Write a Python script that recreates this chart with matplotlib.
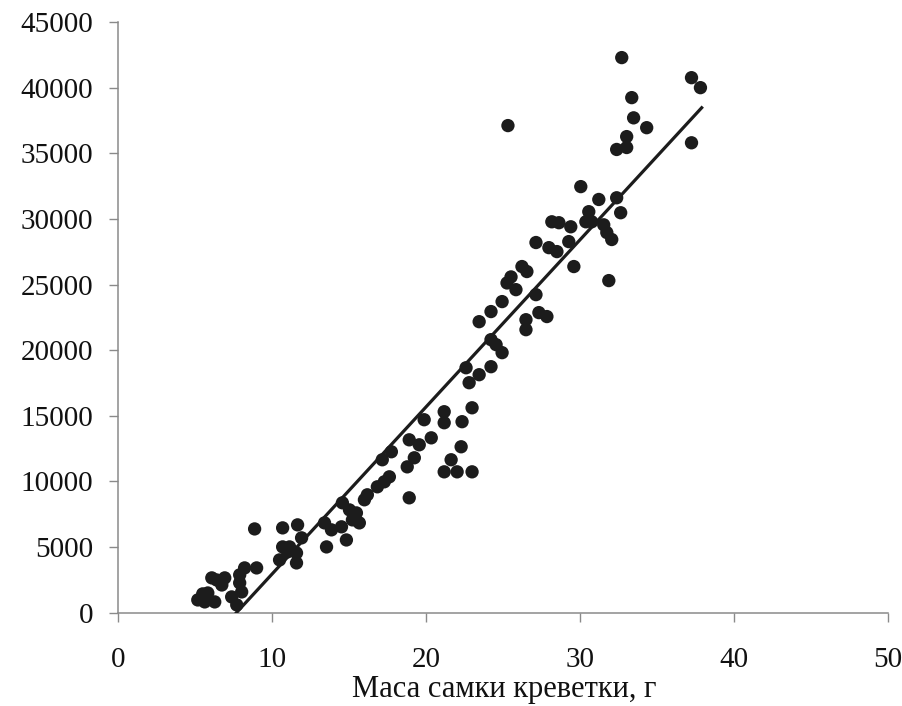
import numpy as np
import matplotlib
matplotlib.use("Agg")
import matplotlib.pyplot as plt

# маса самки (г) та кількість яєць
masa = [
    5.18, 5.50, 5.83, 5.63, 6.28, 6.09, 6.41, 6.93, 6.74, 7.38, 7.71, 7.90,
    7.90, 8.22, 9.00, 8.03,
    8.87, 10.69, 11.66, 11.92, 10.69, 11.01, 10.49, 11.59, 11.14, 11.59,
    13.54, 13.41, 13.86, 14.51, 14.83, 14.57, 15.03, 15.48, 15.22, 15.67,
    16.00, 16.19, 16.84, 17.29, 17.62, 17.16, 17.75, 18.91, 18.78, 19.24,
    18.91, 19.56, 20.34, 19.88, 21.18, 21.18, 22.34, 22.99, 22.28, 21.63,
    21.18, 22.02, 22.99, 22.60, 22.80, 23.45, 24.22, 24.94, 24.22, 24.55,
    23.45, 24.22, 24.94, 25.26, 25.52, 25.84, 26.23, 26.55, 27.14, 26.49,
    26.49, 27.33, 27.85, 27.14, 27.98, 28.50, 29.27, 29.60, 28.17, 28.63,
    29.40, 30.05, 31.22, 32.38, 32.64, 30.57, 30.38, 30.76, 31.54, 31.74,
    32.06, 31.87, 32.71, 33.36, 33.48, 34.33, 33.03, 32.38, 33.03, 37.24,
    37.82, 37.24, 25.32,
]
ikra = [
    970, 1430, 1500, 820, 820, 2650, 2490, 2650, 2110, 1200, 590, 2270,
    2880, 3410, 3410, 1580,
    6380, 6460, 6690, 5700, 5010, 4630, 4020, 3790, 5010, 4550,
    5010, 6840, 6310, 6540, 5540, 8370, 7830, 7600, 7070, 6840,
    8600, 8980, 9590, 9970, 10350, 11650, 12260, 8750, 11110, 11800,
    13170, 12790, 13320, 14700, 15310, 14470, 14550, 15610, 12640, 11650,
    10730, 10730, 10730, 18660, 17520, 18130, 18740, 19810, 20800, 20420,
    22170, 22940, 23700, 25120, 25580, 24610, 26370, 25990, 24230, 22320,
    21560, 22860, 22560, 28200, 27810, 27510, 28270, 26370, 29780, 29710,
    29400, 32460, 31480, 31610, 30470, 30550, 29780, 29780, 29550, 28960,
    28430, 25300, 42290, 39240, 37700, 36950, 36270, 35290, 35440, 40760,
    40000, 35800, 37110,
]

# лінійний тренд
nahyl = 1273.4
zsuv = -9793.0
tr_x = np.array([-zsuv / nahyl, 37.9])

x_ticks = [0, 10, 20, 30, 40, 50]
y_ticks = list(range(0, 45001, 5000))

plt.rcParams["font.family"] = ["Liberation Serif", "DejaVu Serif"]

fig = plt.figure(figsize=(9.03, 7.06), dpi=100)
ax = fig.add_axes([0.1307, 0.1322, 0.8527, 0.8366])

ax.scatter(masa, ikra, s=92, color="#1c1c1c", edgecolors="none", zorder=3)
ax.plot(tr_x, nahyl * tr_x + zsuv, color="#1c1c1c", lw=2.3, zorder=4)

ax.set_xlim(0, 50)
ax.set_ylim(0, 45000)
ax.set_xticks(x_ticks)
ax.set_yticks(y_ticks)

for s in ["top", "right"]:
    ax.spines[s].set_visible(False)
for s in ["left", "bottom"]:
    ax.spines[s].set_color("#8a8a8a")
    ax.spines[s].set_linewidth(1.1)

ax.tick_params(axis="both", direction="out", length=6.5, width=1.0,
               color="#8a8a8a", labelcolor="#111111")
ax.tick_params(axis="y", labelsize=21, pad=11.5)
ax.tick_params(axis="x", labelsize=21, pad=18)

fig.text(504 / 903, 1 - 689 / 706, "Маса самки креветки, г", fontsize=22,
         color="#111111", ha="center", va="center")

fig.savefig("out.png", dpi=100)
